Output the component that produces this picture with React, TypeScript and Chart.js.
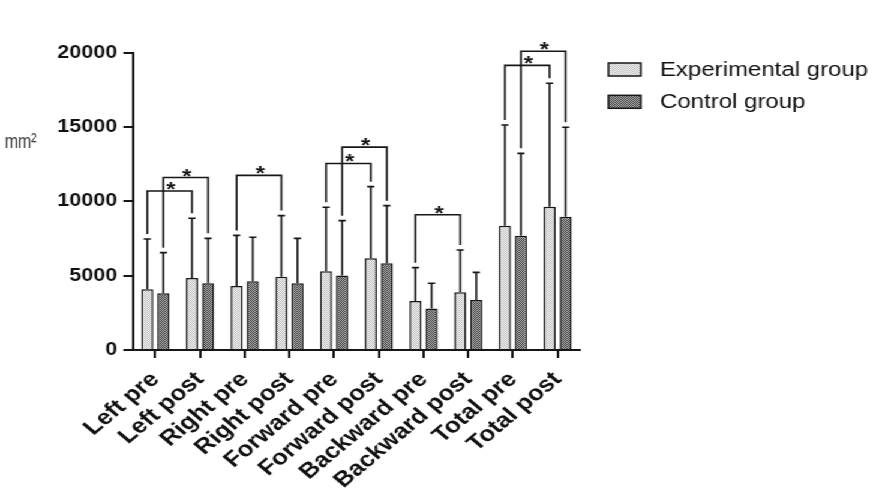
import { useEffect, useRef } from 'react';
import { Chart, registerables } from 'chart.js';

Chart.register(...registerables);

// The plot is laid out on a narrower canvas and widened horizontally by CSS.
const STRETCH = 1.2;
const WIDTH = Math.round(881 / STRETCH);
const HEIGHT = 492;
const FONT = '"Liberation Sans", Arial, Helvetica, sans-serif';

const categories = [
  'Left pre', 'Left post', 'Right pre', 'Right post', 'Forward pre',
  'Forward post', 'Backward pre', 'Backward post', 'Total pre', 'Total post',
];
const groupNames = ['Experimental group', 'Control group'];

// mean area (mm²) and upper SD for each group
const experimentalMean = [4080, 4840, 4300, 4930, 5290, 6170, 3300, 3880, 8360, 9640];
const experimentalSD = [3390, 4020, 3410, 4110, 4310, 4820, 2240, 2850, 6780, 8300];
const controlMean = [3810, 4490, 4620, 4490, 5020, 5830, 2800, 3360, 7690, 8970];
const controlSD = [2740, 3020, 2960, 3020, 3680, 3880, 1690, 1860, 5540, 6010];

const yTicks = [0, 5000, 10000, 15000, 20000];
const unitLabel = 'mm²';

// significance brackets: pre/post category pair, group index, bracket height (mm²)
const bracketFrom = [0, 0, 2, 4, 4, 6, 8, 8];
const bracketTo = [1, 1, 3, 5, 5, 7, 9, 9];
const bracketGroup = [0, 1, 0, 0, 1, 0, 0, 1];
const bracketLevel = [10700, 11600, 11750, 12550, 13650, 9100, 19150, 20100];
const bracketMark = '*';

function makePattern(bg: string, fg: string): CanvasPattern | string {
  const c = document.createElement('canvas');
  c.width = 2;
  c.height = 2;
  const p = c.getContext('2d');
  if (!p) return bg;
  p.fillStyle = bg;
  p.fillRect(0, 0, 2, 2);
  p.fillStyle = fg;
  p.fillRect(0, 0, 1, 1);
  p.fillRect(1, 1, 1, 1);
  return p.createPattern(c, 'repeat') || bg;
}

export default function App() {
  const canvasRef = useRef<HTMLCanvasElement | null>(null);

  useEffect(() => {
    const canvas = canvasRef.current;
    if (!canvas) return;

    const fills = [makePattern('#f6f6f6', '#bcbcbc'), makePattern('#b4b4b4', '#3c3c3c')];
    const means = [experimentalMean, controlMean];
    const sds = [experimentalSD, controlSD];
    const ink = '#161616';

    const annotate = {
      id: 'annotate',
      afterDatasetsDraw(chart: any) {
        const { ctx } = chart;
        const y = chart.scales.y;
        ctx.save();
        ctx.strokeStyle = ink;
        ctx.lineWidth = 1.6;
        // upper error whiskers
        for (let d = 0; d < 2; d++) {
          const meta = chart.getDatasetMeta(d);
          meta.data.forEach((bar: any, i: number) => {
            const top = y.getPixelForValue(means[d][i]);
            const end = y.getPixelForValue(means[d][i] + sds[d][i]);
            ctx.beginPath();
            ctx.moveTo(bar.x, top);
            ctx.lineTo(bar.x, end);
            ctx.moveTo(bar.x - 3, end);
            ctx.lineTo(bar.x + 3, end);
            ctx.stroke();
          });
        }
        // significance brackets
        ctx.fillStyle = ink;
        ctx.font = `bold 20px ${FONT}`;
        ctx.textAlign = 'center';
        ctx.textBaseline = 'alphabetic';
        for (let b = 0; b < bracketFrom.length; b++) {
          const g = bracketGroup[b];
          const meta = chart.getDatasetMeta(g);
          const a = bracketFrom[b];
          const c = bracketTo[b];
          const x1 = meta.data[a].x;
          const x2 = meta.data[c].x;
          const yl = y.getPixelForValue(bracketLevel[b]);
          const y1 = y.getPixelForValue(means[g][a] + sds[g][a]) - 5;
          const y2 = y.getPixelForValue(means[g][c] + sds[g][c]) - 5;
          ctx.beginPath();
          ctx.moveTo(x1, y1);
          ctx.lineTo(x1, yl);
          ctx.lineTo(x2, yl);
          ctx.lineTo(x2, y2);
          ctx.stroke();
          ctx.fillText(bracketMark, (x1 + x2) / 2 + 1, yl + 5);
        }
        ctx.restore();
      },
      afterDraw(chart: any) {
        const { ctx } = chart;
        ctx.save();
        // legend
        ctx.font = `20px ${FONT}`;
        ctx.textAlign = 'left';
        ctx.textBaseline = 'middle';
        groupNames.forEach((name, i) => {
          const bx = 507;
          const by = 63 + i * 32.3;
          ctx.fillStyle = fills[i];
          ctx.fillRect(bx, by, 27, 13);
          ctx.strokeStyle = ink;
          ctx.lineWidth = 1.5;
          ctx.strokeRect(bx, by, 27, 13);
          ctx.fillStyle = '#111';
          ctx.fillText(name, 550, by + 7);
        });
        // unit label
        ctx.translate(4, 148);
        ctx.scale(0.63, 1);
        ctx.font = `21px ${FONT}`;
        ctx.textBaseline = 'alphabetic';
        ctx.fillStyle = '#333';
        ctx.fillText(unitLabel, 0, 0);
        ctx.restore();
      },
    };

    const chart = new Chart(canvas, {
      type: 'bar',
      data: {
        labels: categories,
        datasets: [
          {
            label: groupNames[0],
            data: experimentalMean,
            backgroundColor: fills[0] as any,
            borderColor: ink,
            borderWidth: 1.5,
            categoryPercentage: 0.72,
            barPercentage: 0.75,
          },
          {
            label: groupNames[1],
            data: controlMean,
            backgroundColor: fills[1] as any,
            borderColor: ink,
            borderWidth: 1.5,
            categoryPercentage: 0.72,
            barPercentage: 0.75,
          },
        ],
      },
      options: {
        animation: false,
        responsive: false,
        devicePixelRatio: 1,
        layout: { padding: { top: 52.7, right: WIDTH - 483.3, bottom: 0, left: 0 } },
        plugins: { legend: { display: false }, tooltip: { enabled: false } },
        scales: {
          x: {
            grid: {
              display: true,
              drawOnChartArea: false,
              offset: false,
              color: ink,
              lineWidth: 2,
              tickLength: 8,
            },
            border: { display: true, color: ink, width: 2 },
            ticks: {
              autoSkip: false,
              maxRotation: 45,
              minRotation: 45,
              color: '#111',
              padding: 9,
              font: { family: FONT, size: 21.5, weight: 'bold' },
            },
            afterFit(scale: any) {
              scale.height = HEIGHT - 350;
            },
          },
          y: {
            min: 0,
            max: 20000,
            afterBuildTicks(scale: any) {
              scale.ticks = yTicks.map((v) => ({ value: v }));
            },
            grid: {
              display: true,
              drawOnChartArea: false,
              color: ink,
              lineWidth: 2,
              tickLength: 8,
            },
            border: { display: true, color: ink, width: 2 },
            ticks: {
              color: '#111',
              padding: 5,
              font: { family: FONT, size: 18, weight: 'bold' },
              callback: (v: any) => String(v),
            },
            afterFit(scale: any) {
              scale.width = 110.8;
            },
          },
        },
      },
      plugins: [annotate],
    });

    return () => chart.destroy();
  }, []);

  return (
    <div
      style={{
        position: 'fixed',
        left: 0,
        top: 0,
        width: WIDTH,
        height: HEIGHT,
        background: '#fff',
        transform: `scaleX(${STRETCH})`,
        transformOrigin: '0 0',
      }}
    >
      <canvas ref={canvasRef} width={WIDTH} height={HEIGHT} style={{ display: 'block' }} />
    </div>
  );
}
